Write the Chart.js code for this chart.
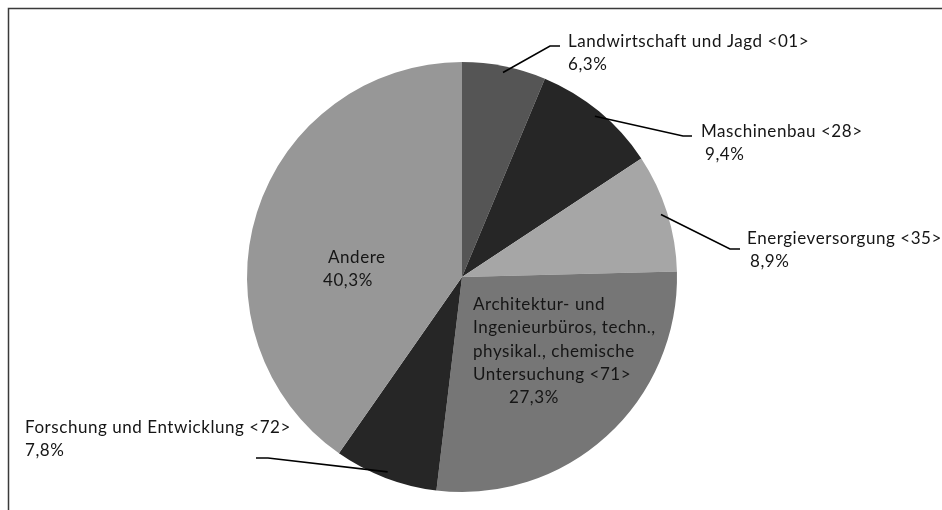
<!DOCTYPE html>
<html>
<head>
<meta charset="utf-8">
<script src="https://cdn.jsdelivr.net/npm/chart.js@4"></script>
<style>
  html, body { margin: 0; padding: 0; background: #fff; }
  #wrap { position: relative; width: 942px; height: 510px; }
</style>
</head>
<body>
<div id="wrap"><canvas id="pieChart" width="942" height="510"></canvas></div>
<script>
// ==============================
// Daten
// ==============================
const branchen = [
  ["Landwirtschaft und Jagd <01>"],
  ["Maschinenbau <28>"],
  ["Energieversorgung <35>"],
  ["Architektur- und", "Ingenieurbüros, techn.,", "physikal., chemische", "Untersuchung <71>"],
  ["Forschung und Entwicklung <72>"],
  ["Andere"],
];
const anteile = [6.3, 9.4, 8.9, 27.3, 7.8, 40.3];
const farben = ["#555555", "#262626", "#a6a6a6", "#767676", "#262626", "#979797"];

// Beschriftungs-Layout (Position relativ zum Canvas)
const labelPos = [
  { x: 568, y: 47, pctX: 568, leader: [550, 46, 560] },
  { x: 701, y: 137, pctX: 705, leader: [683, 136, 692] },
  { x: 747, y: 244, pctX: 750, leader: [730, 249, 740] },
  { x: 473, y: 310, pctX: 509, inside: true },
  { x: 25, y: 433, pctX: 25, leader: [268, 458, 256] },
  { x: 328, y: 263, pctX: 323, inside: true },
];

const fmt = (v) => v.toFixed(1).replace(".", ",") + "%";

const labelsPlugin = {
  id: "labels",
  afterDraw(chart) {
    const ctx = chart.ctx;
    const meta = chart.getDatasetMeta(0);
    ctx.save();

    // Rahmen
    ctx.strokeStyle = "#3a3a3a";
    ctx.lineWidth = 1.5;
    ctx.beginPath();
    ctx.moveTo(8.5, 520);
    ctx.lineTo(8.5, 8.5);
    ctx.lineTo(950, 8.5);
    ctx.stroke();

    ctx.font = "17px Lato";
    ctx.letterSpacing = "0.55px";
    ctx.fillStyle = "#151515";
    ctx.textBaseline = "alphabetic";
    ctx.textAlign = "left";

    meta.data.forEach((arc, i) => {
      const p = labelPos[i];
      const lines = branchen[i];
      const lh = 23.3;
      lines.forEach((t, j) => ctx.fillText(t, p.x, p.y + j * lh));
      ctx.fillText(fmt(anteile[i]), p.pctX, p.y + lines.length * lh);

      if (p.leader) {
        const mid = (arc.startAngle + arc.endAngle) / 2;
        const r = arc.outerRadius * 0.97;
        const sx = arc.x + Math.cos(mid) * r;
        const sy = arc.y + Math.sin(mid) * r;
        ctx.strokeStyle = "#000";
        ctx.lineWidth = 1.6;
        ctx.beginPath();
        ctx.moveTo(sx, sy);
        ctx.lineTo(p.leader[0], p.leader[1]);
        ctx.lineTo(p.leader[2], p.leader[1]);
        ctx.stroke();
      }
    });
    ctx.restore();
  },
};

new Chart(document.getElementById("pieChart"), {
  type: "pie",
  data: {
    labels: branchen.map((b) => b.join(" ")),
    datasets: [
      {
        data: anteile,
        backgroundColor: farben,
        borderWidth: 0,
      },
    ],
  },
  options: {
    responsive: false,
    animation: false,
    layout: { padding: { top: 62, bottom: 18, left: 247, right: 265 } },
    plugins: {
      legend: { display: false },
      tooltip: { enabled: false },
    },
  },
  plugins: [labelsPlugin],
});
</script>
</body>
</html>
